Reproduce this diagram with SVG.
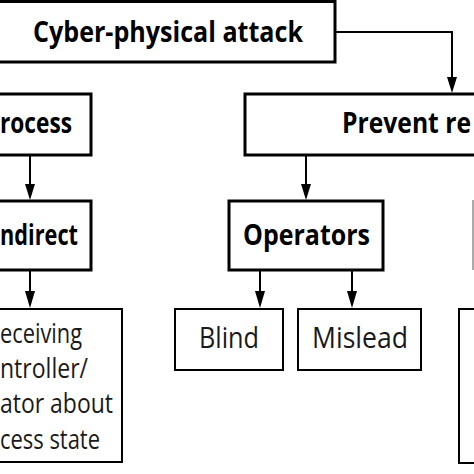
<svg xmlns="http://www.w3.org/2000/svg" width="474" height="474" viewBox="0 0 474 474">
<defs>
<style>
.bold{fill:#fff;stroke:#000;stroke-width:3}
.thin{fill:#fff;stroke:#000;stroke-width:2}
.tb{font-family:"Open Sans","Liberation Sans",sans-serif;font-weight:bold;font-size:29px;fill:#000}
.tr{font-family:"Open Sans","Liberation Sans",sans-serif;font-size:29px;fill:#1a1a1a}
.tm{font-family:"Open Sans","Liberation Sans",sans-serif;font-size:27px;fill:#1a1a1a}
.conn{fill:none;stroke:#000;stroke-width:2}
.head{fill:#000}
</style>
</defs>
<rect width="474" height="474" fill="#fff"/>
<g id="connectors">
<path class="conn" d="M335,32 H452 V78"/>
<path class="head" d="M447,77 L457,77 L452,93 Z"/>
<path class="conn" d="M30,155 V185"/>
<path class="head" d="M25,184 L35,184 L30,200 Z"/>
<path class="conn" d="M30,270 V292"/>
<path class="head" d="M25,291 L35,291 L30,308 Z"/>
<path class="conn" d="M306,155 V185"/>
<path class="head" d="M301,184 L311,184 L306,200 Z"/>
<path class="conn" d="M260,270 V292"/>
<path class="head" d="M255,291 L265,291 L260,308 Z"/>
<path class="conn" d="M352,270 V292"/>
<path class="head" d="M347,291 L357,291 L352,308 Z"/>
</g>
<g id="cyber-physical-attack">
<rect class="bold" x="-20" y="1.5" width="355" height="60.5"/>
<text class="tb" x="168" y="42" text-anchor="middle" textLength="270" lengthAdjust="spacingAndGlyphs">Cyber-physical attack</text>
</g>
<g id="process">
<rect class="bold" x="-20" y="94" width="111" height="61"/>
<text class="tb" x="72" y="133" text-anchor="end" textLength="72" lengthAdjust="spacingAndGlyphs">rocess</text>
</g>
<g id="prevent">
<rect class="bold" x="245" y="94" width="250" height="61"/>
<text class="tb" x="342" y="133" textLength="129" lengthAdjust="spacingAndGlyphs">Prevent re</text>
</g>
<g id="indirect">
<rect class="bold" x="-20" y="201" width="111" height="69"/>
<text class="tb" x="78" y="245" text-anchor="end" textLength="78" lengthAdjust="spacingAndGlyphs">ndirect</text>
</g>
<g id="operators">
<rect class="bold" x="229" y="201" width="154" height="69"/>
<text class="tb" x="306.5" y="245" text-anchor="middle" textLength="127" lengthAdjust="spacingAndGlyphs">Operators</text>
</g>
<g id="hidden-box">
<line x1="473" y1="200" x2="473" y2="270" stroke="#aaa" stroke-width="2"/>
</g>
<g id="deceiving">
<rect class="thin" x="-20" y="309" width="142" height="153"/>
<text class="tm" x="82" y="343" text-anchor="end" textLength="82" lengthAdjust="spacingAndGlyphs">eceiving</text>
<text class="tm" x="88" y="378" text-anchor="end" textLength="88" lengthAdjust="spacingAndGlyphs">ntroller/</text>
<text class="tm" x="113" y="413" text-anchor="end" textLength="113" lengthAdjust="spacingAndGlyphs">ator about</text>
<text class="tm" x="100" y="449" text-anchor="end" textLength="100" lengthAdjust="spacingAndGlyphs">cess state</text>
</g>
<g id="blind">
<rect class="thin" x="175" y="309" width="108" height="61"/>
<text class="tr" x="229" y="348" text-anchor="middle" textLength="60" lengthAdjust="spacingAndGlyphs">Blind</text>
</g>
<g id="mislead">
<rect class="thin" x="298" y="309" width="123" height="61"/>
<text class="tr" x="360" y="348" text-anchor="middle" textLength="96" lengthAdjust="spacingAndGlyphs">Mislead</text>
</g>
<g id="right-box">
<rect class="thin" x="459" y="309" width="40" height="154"/>
</g>
</svg>
